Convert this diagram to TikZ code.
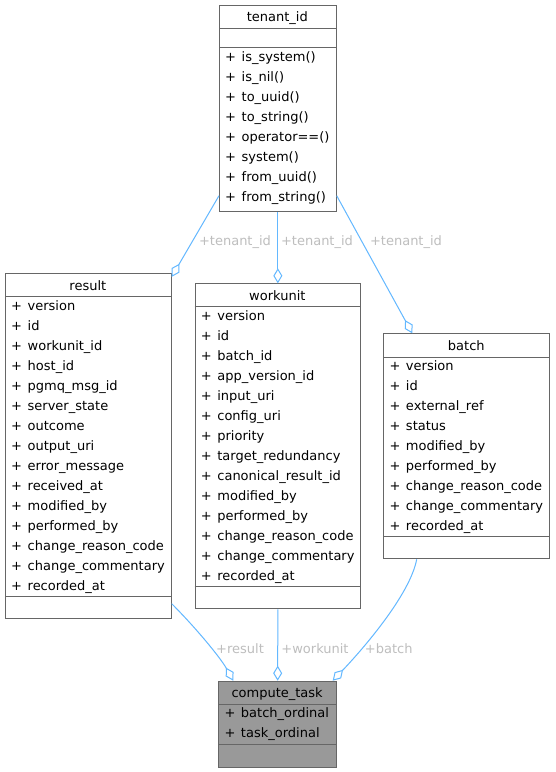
\documentclass[tikz,border=0pt]{standalone}
\usepackage{fontspec}
\setmainfont{DejaVu Sans}
\usetikzlibrary{arrows.meta,calc}
\definecolor{boxline}{HTML}{666666}
\definecolor{edgeblue}{HTML}{63B8FF}
\definecolor{lblgray}{HTML}{BEBEBE}
\definecolor{ctfill}{HTML}{999999}
\tikzset{
  cls/.style={draw=boxline, line width=1pt, fill=white, anchor=north west, inner sep=0pt, minimum width=#1},
  sepline/.style={draw=boxline, line width=1pt},
  row/.style={anchor=base west, inner sep=0pt, font=\fontsize{13}{15}\selectfont},
  ttl/.style={anchor=base, inner sep=0pt, font=\fontsize{13}{15}\selectfont},
  lbl/.style={anchor=base, inner sep=0pt, text=lblgray, font=\fontsize{13}{15}\selectfont},
  agg/.style={draw=edgeblue, line width=1pt, {Diamond[open,length=15pt,width=9pt]}-}
}
\newcommand{\classrows}[4]{%
  \foreach \t [count=\i] in {#4} {\node[row, name=#1\i] at (#2, #3+20*\i-20) {+\hspace{5.6pt}\t};}}
\begin{document}
\begin{tikzpicture}[x=1pt,y=-1pt]
\useasboundingbox[fill=white] (0,0) rectangle (555,772);

% tenant_id
\node[cls=116.7pt, minimum height=205.7pt] (tenant) at (219,5) {};
\draw[sepline] (219,28) -- (335.7,28);
\draw[sepline] (219,47.7) -- (335.7,47.7);
\node[ttl] (tenant-t) at (277.35,21.7) {tenant\_id};
\classrows{tenant-m}{225}{61}{is\_system(),is\_nil(),to\_uuid(),to\_string(),operator==(),system(),from\_uuid(),from\_string()}

% result
\node[cls=165.7pt, minimum height=345pt] (result) at (5,273.3) {};
\draw[sepline] (5,296.7) -- (170.7,296.7);
\draw[sepline] (5,596.7) -- (170.7,596.7);
\node[ttl] (result-t) at (87.85,290) {result};
\classrows{result-a}{11}{310}{version,id,workunit\_id,host\_id,pgmq\_msg\_id,server\_state,outcome,output\_uri,error\_message,received\_at,modified\_by,performed\_by,change\_reason\_code,change\_commentary,recorded\_at}

% workunit
\node[cls=165.3pt, minimum height=325pt] (workunit) at (194.7,283.3) {};
\draw[sepline] (194.7,306.7) -- (360,306.7);
\draw[sepline] (194.7,586) -- (360,586);
\node[ttl] (workunit-t) at (277.35,300) {workunit};
\classrows{workunit-a}{200.7}{320}{version,id,batch\_id,app\_version\_id,input\_uri,config\_uri,priority,target\_redundancy,canonical\_result\_id,modified\_by,performed\_by,change\_reason\_code,change\_commentary,recorded\_at}

% batch
\node[cls=166pt, minimum height=225pt] (batch) at (383.3,333.3) {};
\draw[sepline] (383.3,357.3) -- (549.3,357.3);
\draw[sepline] (383.3,536.7) -- (549.3,536.7);
\node[ttl] (batch-t) at (466.3,350) {batch};
\classrows{batch-a}{389.3}{370.6}{version,id,external\_ref,status,modified\_by,performed\_by,change\_reason\_code,change\_commentary,recorded\_at}

% compute_task
\node[cls=117.7pt, minimum height=86pt, fill=ctfill] (compute) at (218.3,680.7) {};
\draw[sepline] (218.3,704) -- (336,704);
\draw[sepline] (218.3,744) -- (336,744);
\node[ttl] (compute-t) at (277.15,697.4) {compute\_task};
\classrows{compute-a}{224.3}{717.3}{batch\_ordinal,task\_ordinal}

% connectors
\draw[agg] ($(result.north east)+(0,3.5)$) -- ($(tenant.south west)+(0,-16)$);
\draw[agg] (workunit.north) -- (tenant.south);
\draw[agg] ($(batch.north west)+(29,0)$) -- ($(tenant.south east)+(0,-16)$);
\draw[agg] ($(compute.north west)+(15,0)$) .. controls (220,657) and (195,627) .. ($(result.south east)+(0,-15.6)$);
\draw[agg] (compute.north) -- (workunit.south);
\draw[agg] ($(compute.north east)+(-4.3,0)$) .. controls (362,650) and (410,595) .. ($(batch.south west)+(33.4,0)$);

% labels
\node[lbl] (l-rt) at (235,245) {+tenant\_id};
\node[lbl] (l-wt) at (317,245) {+tenant\_id};
\node[lbl] (l-bt) at (406,245) {+tenant\_id};
\node[lbl] (l-cr) at (240,653.3) {+result};
\node[lbl] (l-cw) at (315,653.3) {+workunit};
\node[lbl] (l-cb) at (388.7,653.3) {+batch};
\end{tikzpicture}
\end{document}
